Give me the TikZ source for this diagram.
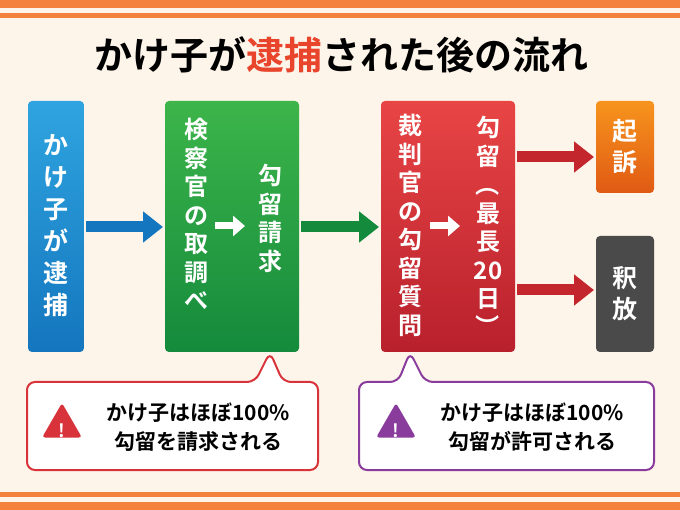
\documentclass[tikz,border=0pt]{standalone}
\usepackage{fontspec}
\setmainfont{Noto Sans CJK JP Bold}
\usetikzlibrary{arrows.meta,shapes.geometric}
\definecolor{bg}{HTML}{FDF4EA}
\definecolor{org}{HTML}{F5823C}
\definecolor{tred}{HTML}{E8452C}
\definecolor{blu1}{HTML}{2FA4E0}\definecolor{blu2}{HTML}{1476BE}
\definecolor{grn1}{HTML}{3DB54A}\definecolor{grn2}{HTML}{148A3C}
\definecolor{red1}{HTML}{E84545}\definecolor{red2}{HTML}{B8202C}
\definecolor{or1}{HTML}{F7941D}\definecolor{or2}{HTML}{E05A14}
\definecolor{gry}{HTML}{4A4A4A}
\definecolor{pur}{HTML}{8A3C9C}
\definecolor{cred}{HTML}{D8333A}
\definecolor{dred}{HTML}{C4262E}
\tikzset{
 box/.style={rounded corners=4pt,draw=none},
 vt/.style={text=white,font=\fontsize{25}{31}\selectfont,align=center,inner sep=0},
 vtn/.style={vt,font=\fontsize{24}{28.5}\selectfont},
 bigarrow/.style={line width=11pt,-{Triangle[length=20pt,width=30pt]}},
 warn/.style={rounded corners=8pt,line width=2pt,fill=white},
 wt/.style={font=\fontsize{21}{29}\selectfont,align=center,inner sep=0},
}
\newcommand{\rp}[1]{\rotatebox[origin=c]{-90}{#1}}
\begin{document}
\begin{tikzpicture}[x=1pt,y=-1pt]
\useasboundingbox (0,0) rectangle (680,510);
\fill[bg] (0,0) rectangle (680,510);
\fill[org] (0,0) rectangle (680,8);
\fill[org] (0,13) rectangle (680,18);
\fill[org] (0,492) rectangle (680,497);
\fill[org] (0,502) rectangle (680,510);
\node[font=\fontsize{38}{40}\selectfont,inner sep=0] (title) at (341,55) {かけ子が\textcolor{tred}{逮捕}された後の流れ};
% boxes
\shade[box,top color=blu1,bottom color=blu2] (28,101) rectangle (84,352);
\node[vt,font=\fontsize{25}{32}\selectfont] (b1) at (56,226) {か\\け\\子\\が\\逮\\捕};
\shade[box,top color=grn1,bottom color=grn2] (165,101) rectangle (299,352);
\node[vtn,anchor=north] (g1) at (196,118) {検\\察\\官\\の\\取\\調\\べ};
\node[vtn,anchor=north] (g2) at (270,164) {勾\\留\\請\\求};
\shade[box,top color=red1,bottom color=red2] (381,101) rectangle (515,352);
\node[vtn,anchor=north] (r1) at (410,114) {裁\\判\\官\\の\\勾\\留\\質\\問};
\node[vtn,anchor=north] (r2) at (488,116) {勾\\留\\\rp{（}\\最\\長\\20\\日\\\rp{）}};
\shade[box,top color=or1,bottom color=or2] (596,101) rectangle (654,193);
\node[vt] (o1) at (625,147) {起\\訴};
\fill[box,gry] (596,236) rectangle (654,352);
\node[vt] (k1) at (625,294) {釈\\放};
% arrows
\coordinate (a1) at (86,227); \coordinate (a2) at (163,227);
\draw[bigarrow,blu2] (a1) -- (a2);
\coordinate (a3) at (301,227); \coordinate (a4) at (379,227);
\draw[bigarrow,grn2] (a3) -- (a4);
\coordinate (w1) at (215,226); \coordinate (w2) at (245,226);
\draw[white,line width=7pt,-{Triangle[length=12pt,width=20pt]}] (w1) -- (w2);
\coordinate (w3) at (430,226); \coordinate (w4) at (460,226);
\draw[white,line width=7pt,-{Triangle[length=12pt,width=20pt]}] (w3) -- (w4);
\coordinate (a5) at (517,157); \coordinate (a6) at (594,157);
\draw[bigarrow,dred] (a5) -- (a6);
\coordinate (a7) at (517,290); \coordinate (a8) at (594,290);
\draw[bigarrow,dred] (a7) -- (a8);
% callouts
\draw[warn,draw=cred] (27,382) -- (255,382) -- (270,352) -- (283,382) -- (318,382) -- (318,470) -- (27,470) -- cycle;
\node[regular polygon,regular polygon sides=3,fill=cred,minimum size=46pt,inner sep=0,rounded corners=3pt] (t1) at (62,426) {};
\node[text=white,font=\fontsize{18}{18}\selectfont] at (62,431) {!};
\node[wt] (c1) at (198,427) {かけ子はほぼ100\%\\勾留を請求される};
\draw[warn,draw=pur] (359,382) -- (398,382) -- (410,352) -- (425,382) -- (654,382) -- (654,470) -- (359,470) -- cycle;
\node[regular polygon,regular polygon sides=3,fill=pur,minimum size=46pt,inner sep=0,rounded corners=3pt] (t2) at (396,426) {};
\node[text=white,font=\fontsize{18}{18}\selectfont] at (396,431) {!};
\node[wt] (c2) at (532,427) {かけ子はほぼ100\%\\勾留が許可される};
\end{tikzpicture}
\end{document}
